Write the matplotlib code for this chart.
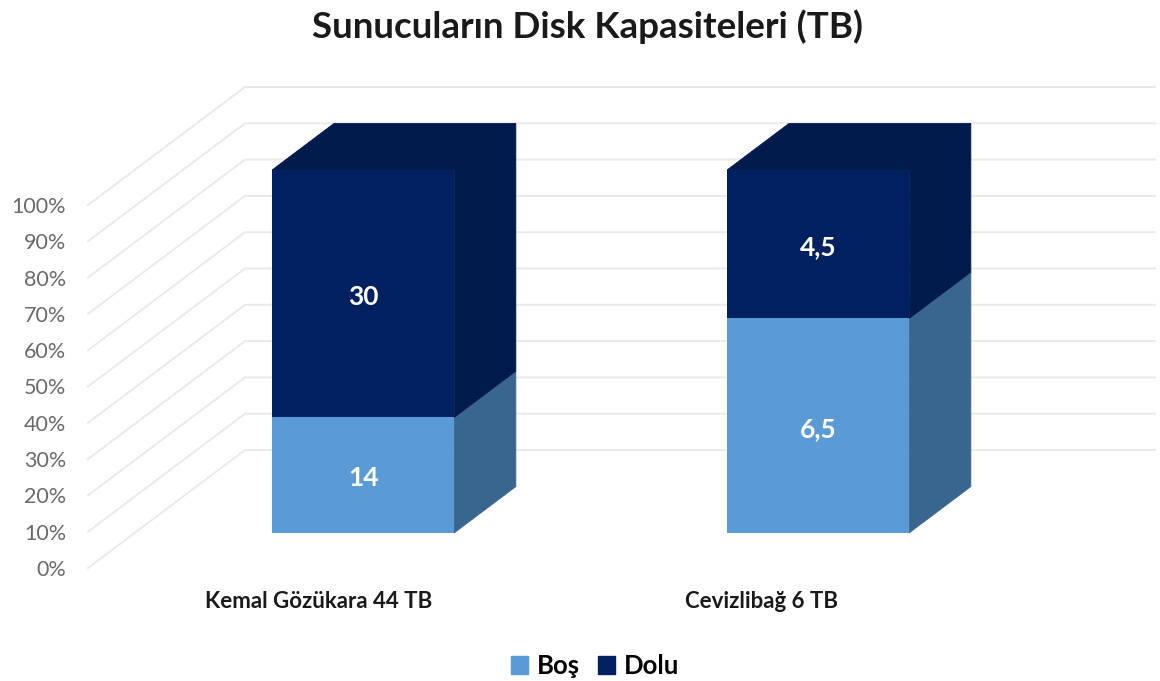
import matplotlib
matplotlib.use("Agg")
import numpy as np
import matplotlib.pyplot as plt
from matplotlib.patches import Patch

plt.rcParams["font.family"] = ["Lato", "DejaVu Sans"]

categories = ["Kemal Gözükara 44 TB", "Cevizlibağ 6 TB"]
series_names = ["Boş", "Dolu"]
bos = [14, 6.5]
dolu = [30, 4.5]
percent_ticks = [0, 10, 20, 30, 40, 50, 60, 70, 80, 90, 100]

front_colors = ["#5B9BD5", "#002060"]
side_colors = ["#38668F", "#001A4C"]
top_color = "#001A4C"
grid_color = "#EAEAEA"

W, H = 1160, 681

# scales: one category = 455 px, one percent = 3.63 px
px_per_cat = 455.0
px_per_pct = 3.63
x0_px = 315.5   # category 0 on the front plane
y0_px = 568.0   # 0% on the front plane

# depth of the fake 3d box, in data units
depth_x = 157 / px_per_cat
depth_y = 118 / px_per_pct
bar_front = 0.297
bar_back = 0.69
bar_width = 0.4
bar_shift = 1 / px_per_cat

# category labels don't sit exactly under the bars in the original
label_nudge_px = [3, -9]


def project(x, pct, depth):
    return x + depth * depth_x, pct + depth * depth_y


fig = plt.figure(figsize=(W / 100, H / 100), dpi=100)
ax = fig.add_axes([0, 0, 1, 1])
ax.set_xlim(-x0_px / px_per_cat, (W - x0_px) / px_per_cat)
ax.set_ylim((y0_px - H) / px_per_pct, y0_px / px_per_pct)
ax.axis("off")

# walls: diagonal on the side wall, then straight on the back wall
for p in percent_ticks:
    xa, ya = project(-0.5, p, 0)
    xb, yb = project(-0.5, p, 1)
    xc, yc = project(1.5, p, 1)
    ax.plot([xa, xb, xc], [ya, yb, yc], color=grid_color, lw=1.4, zorder=1,
            solid_joinstyle="miter")
    ax.text(xa - 22 / px_per_cat, ya - 2 / px_per_pct, f"{p}%", ha="right", va="center",
            fontsize=15.5, color="#6A6A6A")

shares = np.array([bos, dolu], dtype=float)
shares = shares / shares.sum(axis=0) * 100

for i, name in enumerate(categories):
    bottom = 0.0
    left = i + bar_shift - bar_width / 2
    right = i + bar_shift + bar_width / 2
    for s in range(len(series_names)):
        h = shares[s][i]
        top = bottom + h

        # side face
        corners = [project(right, bottom, bar_front), project(right, bottom, bar_back),
                   project(right, top, bar_back), project(right, top, bar_front)]
        ax.fill(*zip(*corners), color=side_colors[s], lw=0.6, zorder=3)

        # front face
        fx, fy = project(i + bar_shift, bottom, bar_front)
        ax.bar(fx, h, width=bar_width, bottom=fy, color=front_colors[s], lw=0, zorder=4)

        # data label
        value = [bos, dolu][s][i]
        label = str(value).replace(".", ",")
        ax.text(fx, fy + h / 2 - 3 / px_per_pct, label, ha="center", va="center",
                color="white", fontsize=19, fontweight="bold", zorder=5)
        bottom = top

    # top face of the whole stack
    corners = [project(left, 100, bar_front), project(right, 100, bar_front),
               project(right, 100, bar_back), project(left, 100, bar_back)]
    ax.fill(*zip(*corners), color=top_color, lw=0.6, zorder=3)

    # category label
    ax.text(i + label_nudge_px[i] / px_per_cat, (y0_px - 602) / px_per_pct, name,
            ha="center", va="center", fontsize=16, fontweight="bold", color="#1A1A1A")

ax.text(588 / W, 1 - 27 / H, "Sunucuların Disk Kapasiteleri (TB)", transform=ax.transAxes,
        ha="center", va="center", fontsize=26.5, fontweight="bold", color="#1A1A1A")

handles = [Patch(color=c, label=n) for c, n in zip(front_colors, series_names)]
ax.legend(handles=handles, ncol=2, frameon=False, loc="center",
          bbox_to_anchor=(595 / W, 1 - 666 / H),
          handlelength=0.66, handleheight=0.66, handletextpad=0.35, columnspacing=0.7,
          prop={"size": 18.5, "weight": "bold"})

fig.savefig("out.png", dpi=100)
